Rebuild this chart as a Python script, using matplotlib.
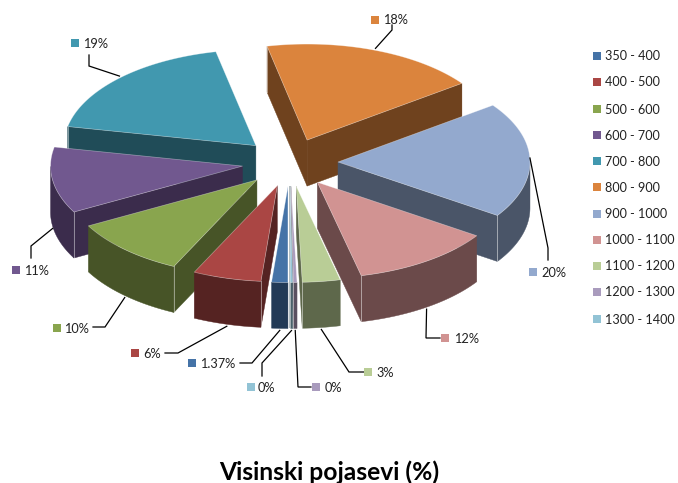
import numpy as np
import matplotlib
matplotlib.use("Agg")
import matplotlib.pyplot as plt
from matplotlib.patches import Polygon, Rectangle

categories = ["350 - 400", "400 - 500", "500 - 600", "600 - 700", "700 - 800", "800 - 900",
              "900 - 1000", "1000 - 1100", "1100 - 1200", "1200 - 1300", "1300 - 1400"]
values = [1.37, 5.8, 10, 11.2, 18.6, 18.4, 19.6, 12, 3.2, 0.3, 0.2]
value_labels = ["1.37%", "6%", "10%", "11%", "19%", "18%", "20%", "12%", "3%", "0%", "0%"]
top_colors = ["#4573A7", "#AA4644", "#89A54E", "#71588F", "#4198AF", "#DB843D",
              "#93A9CE", "#D19392", "#B9CD96", "#A99BBD", "#92C3D5"]
side_colors = ["#223A56", "#552322", "#475427", "#3B2C4C", "#204C58", "#6F421E",
               "#4A5568", "#6B4A4A", "#5E684B", "#5A5060", "#4A626B"]
label_anchor = [(200, 363), (143, 353), (64, 328), (24, 270), (83, 43), (383, 19),
                (541, 272), (454, 338), (376, 372), (325, 387), (258, 387)]
marker_pos = [(192, 363), (135, 353), (57, 328), (16, 270), (75, 43), (375, 20),
              (533, 272), (445, 338), (368, 372), (316, 387), (251, 387)]
leader_elbows = [[(252, 363), (240, 363)], [(178, 353), (165, 353)], [(105, 327), (93, 327)],
                 [(31, 246), (31, 258)], [(89, 66), (89, 55)], [(392, 30), (392, 25)],
                 [(548, 248), (548, 260)], [(426, 338), (440, 338)], [(349, 372), (364, 372)],
                 [(298, 387), (311, 387)], [(262, 363), (262, 376)]]
legend_y = [56, 82, 109, 135, 161, 187, 214, 240, 266, 292, 319]

W, H = 678, 483
CX, CY, RX, KY, DEPTH, EXPLODE = 290, 162.5, 192, 0.50, 46, 48
START = 180

plt.rcParams['font.family'] = ['Lato', 'DejaVu Sans']
fig = plt.figure(figsize=(W / 100, H / 100), dpi=100)
ax = fig.add_axes([0, 0, 1, 1])
ax.set_xlim(0, W)
ax.set_ylim(H, 0)
ax.axis("off")


def pt(theta, r, ox, oy):
    t = np.radians(theta)
    return ox + r * np.sin(t), oy - r * KY * np.cos(t)


edges = START + np.cumsum([0] + values) * 360 / sum(values)
mids = (edges[:-1] + edges[1:]) / 2
order = np.argsort(-np.cos(np.radians(mids)))
for rank, i in enumerate(order):
    z = 1 + 5 * rank
    a0, a1, mid = edges[i], edges[i + 1], mids[i]
    ox, oy = pt(mid, EXPLODE, CX, CY)
    th = np.linspace(a0, a1, 80)
    xs, ys = pt(th, RX, ox, oy)
    side = side_colors[i]
    # radial walls that face the viewer
    for a, visible in ((a0, np.sin(np.radians(a0)) < 0), (a1, np.sin(np.radians(a1)) > 0)):
        if visible:
            ex, ey = pt(a, RX, ox, oy)
            ax.add_patch(Polygon([(ox, oy), (ex, ey), (ex, ey + DEPTH), (ox, oy + DEPTH)], closed=True,
                                 facecolor=side, edgecolor=side, linewidth=0.3, zorder=z))
            ax.plot([ex, ex], [ey, ey + DEPTH], color="#ffffff", alpha=0.45, lw=0.7, zorder=z + 2)
    # outer rim, front part only
    front = np.cos(np.radians(th)) <= 0
    if front.any():
        fx, fy = xs[front], ys[front]
        ax.add_patch(Polygon(np.r_[np.c_[fx, fy], np.c_[fx[::-1], fy[::-1] + DEPTH]], closed=True,
                             facecolor=side, edgecolor=side, linewidth=0.3, zorder=z + 1))
    # top face
    ax.add_patch(Polygon(np.r_[[(ox, oy)], np.c_[xs, ys]], closed=True, facecolor=top_colors[i],
                         edgecolor="#ffffff66", linewidth=0.5, zorder=z + 3))

    # leader and data label
    sx, sy = pt(mid, RX, ox, oy)
    if np.cos(np.radians(mid)) < 0:
        sy += DEPTH + 2
    else:
        sy -= 2
    lx, ly = zip(*([(sx, sy)] + leader_elbows[i]))
    ax.plot(lx, ly, color="black", lw=0.9, zorder=100, solid_joinstyle="miter")
    mx, my = marker_pos[i]
    ax.add_patch(Rectangle((mx - 4, my - 4), 8, 8, facecolor=top_colors[i], edgecolor="none", zorder=100))
    ax.text(label_anchor[i][0], label_anchor[i][1] + 1, value_labels[i], fontsize=9.2, color="#222222",
            va="center", ha="left", zorder=100)

for i, name in enumerate(categories):
    ax.add_patch(Rectangle((593, legend_y[i] - 4), 8, 8, facecolor=top_colors[i], edgecolor="none"))
    ax.text(605, legend_y[i] + 0.5, name, fontsize=9.1, color="#222222", va="center", ha="left")

ax.text(329, 480, "Visinski pojasevi (%)", fontsize=17.7, fontweight="bold", color="black",
        ha="center", va="baseline")
fig.savefig("out.png", dpi=100)
